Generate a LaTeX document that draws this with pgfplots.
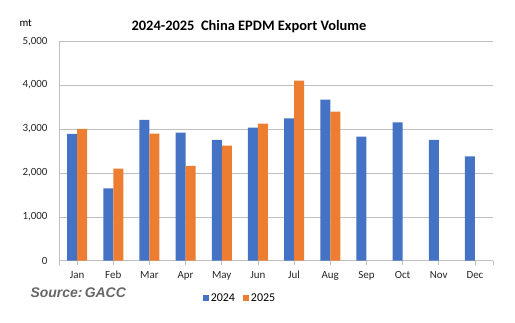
\documentclass[border=0pt]{standalone}
\usepackage{pgfplots}
\pgfplotsset{compat=1.18}
\usepackage{fontspec}
\setmainfont{Carlito}
\newfontfamily\arialfont{Liberation Sans}
\definecolor{cblue}{HTML}{4472C4}
\definecolor{corange}{HTML}{ED7D31}
\definecolor{cgrid}{HTML}{BFBFBF}
\begin{document}
\begin{tikzpicture}[x=1bp,y=1bp]
\path[use as bounding box] (0,0) rectangle (515,322);
\begin{axis}[
  at={(59bp,61.3bp)}, anchor=south west,
  width=434bp, height=219.5bp, scale only axis,
  ybar, bar width=10bp,
  ymin=0, ymax=5000, ytick={0,1000,2000,3000,4000,5000},
  xmin=-0.5, xmax=11.5,
  xtick={0,...,11},
  xticklabels={Jan,Feb,Mar,Apr,May,Jun,Jul,Aug,Sep,Oct,Nov,Dec},
  extra x ticks={-0.5,11.5}, extra x tick labels={},
  axis x line*=bottom, axis y line*=left,
  axis line style={-, draw=cgrid, line width=0.8pt},
  ymajorgrids, grid style={cgrid, line width=0.6pt},
  ytick style={draw=none},
  xtick style={draw=cgrid, line width=0.8pt},
  tick align=outside, major tick length=4bp,
  ticklabel style={font=\fontsize{11}{13}\selectfont, text=black!85},
  yticklabel style={xshift=-4bp},
  xticklabel style={yshift=-3bp},
  /pgf/number format/assume math mode=true,
  /pgf/number format/1000 sep={,},
  scaled y ticks=false,
  legend style={at={(0.417,-0.17)}, anchor=center, draw=none, fill=none,
    legend columns=2, font=\fontsize{12}{14}\selectfont,
    /tikz/every even column/.append style={column sep=6bp}},
  legend image code/.code={\fill[#1] (0bp,-3bp) rectangle (6bp,3bp);},
]
\addplot[fill=cblue, draw=none, bar shift=-5bp] coordinates {
(0,2890) (1,1645) (2,3210) (3,2920) (4,2755) (5,3030) (6,3240) (7,3670) (8,2825) (9,3150) (10,2755) (11,2375)};
\addplot[fill=corange, draw=none, bar shift=5bp] coordinates {
(0,3005) (1,2100) (2,2893) (3,2162) (4,2620) (5,3120) (6,4103) (7,3395)};
\legend{2024,2025}
\end{axis}
\node[font=\bfseries\fontsize{14.5}{17}\selectfont] at (249,295) {2024-2025\ \ China EPDM Export Volume};
\node[font=\fontsize{11}{13}\selectfont, anchor=west] at (16,299) {mt};
\node[font=\arialfont\bfseries\itshape\fontsize{14}{16}\selectfont, text=black!60, anchor=west] at (27,29) {Source:\,GACC};
\end{tikzpicture}
\end{document}
